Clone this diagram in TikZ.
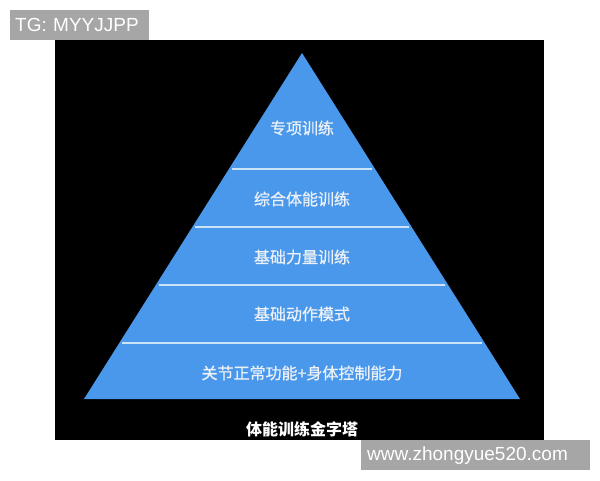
\documentclass[tikz,border=0pt]{standalone}
\usepackage{fontspec}
\setmainfont{Liberation Sans}
\newfontfamily\cjk{Noto Sans CJK SC}
\newfontfamily\cjkmed[FakeBold=0.8]{Noto Sans CJK SC}
\definecolor{pyrblue}{RGB}{74,152,235}
\definecolor{tagback}{RGB}{166,166,166}
\definecolor{lineblue}{RGB}{205,228,248}
\definecolor{textwhite}{RGB}{236,241,247}
\tikzset{
  layertext/.style={text=textwhite, font=\cjkmed\fontsize{16}{18}\selectfont, inner sep=0pt},
  layerline/.style={draw=lineblue, line width=1.2pt},
  tagbox/.style={fill=tagback, text=white, font=\fontsize{19}{21}\selectfont, align=left,
     minimum height=30pt, inner ysep=0pt, anchor=north west}
}
\begin{document}
\begin{tikzpicture}[x=1pt, y=-1pt]
  \useasboundingbox (0,0) rectangle (600,480);

  \def\ax{302};
  \def\ay{53};
  \def\by{399};
  \def\hw{218};

  %back
  \fill[black] (55,40) rectangle (544,440);

  %pyramid
  \fill[pyrblue] (\ax,\ay) -- (\ax+\hw,\by) -- (\ax-\hw,\by) -- cycle;
    \foreach \y in {169,227,285,343}{
         \pgfmathsetmacro\w{\hw/(\by-\ay)*(\y-\ay)-3}
         \draw[layerline] (\ax-\w,\y) -- (\ax+\w,\y);
    }

  %layers
    \foreach \y/\txt/\name in { 128/专项训练/l1, 199/综合体能训练/l2, 257/基础力量训练/l3,
                                 314/基础动作模式/l4, 373/关节正常功能+身体控制能力/l5 }{
         \node[layertext] (\name) at (\ax,\y) {\txt};
    }

  \node[text=white, font=\cjk\bfseries\fontsize{16}{18}\selectfont, inner sep=0pt] (title) at (302,429) {体能训练金字塔};

  %tags
  \node[tagbox, text width=129pt, inner xsep=5pt] (tg) at (10,10) {TG: MYYJJPP};
  \node[tagbox, text width=217pt, inner xsep=6pt] (site) at (361,440) {www.zhongyue520.com};

\end{tikzpicture}
\end{document}
